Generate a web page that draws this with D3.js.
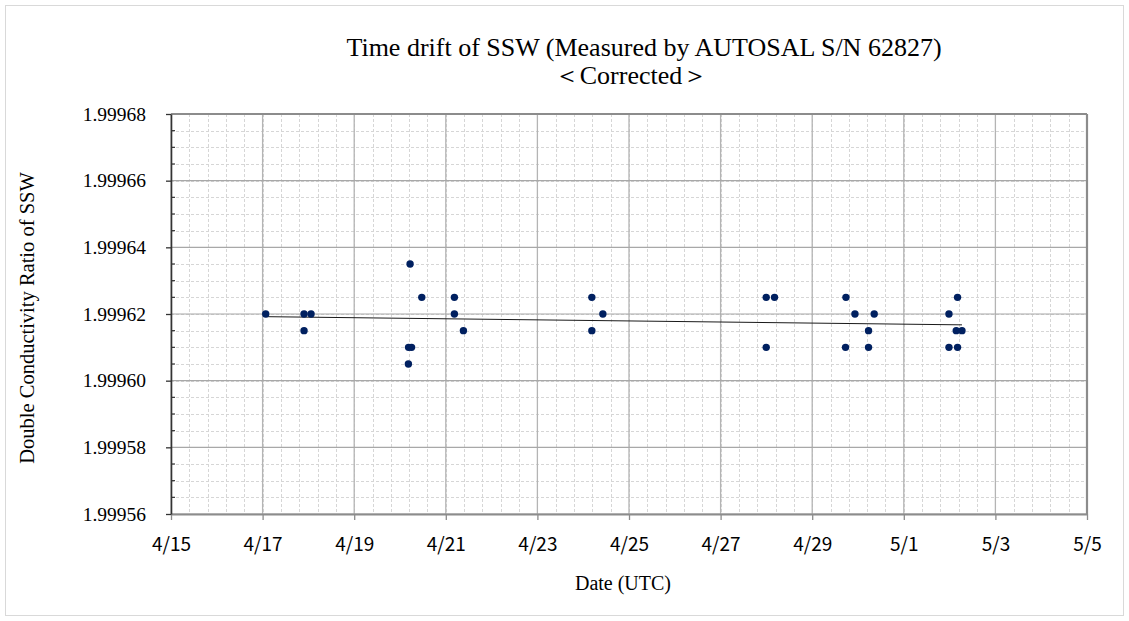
<!DOCTYPE html>
<html>
<head>
<meta charset="utf-8">
<script src="https://cdn.jsdelivr.net/npm/d3@7"></script>
<style>
  html, body { margin: 0; padding: 0; background: #fff; }
  svg { display: block; }
</style>
</head>
<body>
<svg id="chart" width="1129" height="621"></svg>
<script>
// Measurement times (UTC) and double conductivity ratios of SSW
const sampleTimes = [
  "2024-04-17 01:38", "2024-04-17 21:43", "2024-04-18 01:23", "2024-04-17 21:43",
  "2024-04-20 05:17", "2024-04-20 04:29", "2024-04-20 06:04", "2024-04-20 04:24",
  "2024-04-20 11:25", "2024-04-21 04:30", "2024-04-21 04:30", "2024-04-21 09:13",
  "2024-04-24 04:32", "2024-04-24 10:18", "2024-04-24 04:32",
  "2024-04-27 23:54", "2024-04-28 04:15", "2024-04-27 23:54",
  "2024-04-29 17:41", "2024-04-29 22:24", "2024-04-29 17:28",
  "2024-04-30 05:31", "2024-04-30 05:31", "2024-04-30 08:30",
  "2024-05-02 04:10", "2024-05-01 23:40", "2024-05-02 03:29", "2024-05-02 06:29",
  "2024-05-01 23:40", "2024-05-02 04:10"
];
const ratios = [
  1.999620, 1.999620, 1.999620, 1.999615,
  1.999635, 1.999610, 1.999610, 1.999605,
  1.999625, 1.999625, 1.999620, 1.999615,
  1.999625, 1.999620, 1.999615,
  1.999625, 1.999625, 1.999610,
  1.999625, 1.999620, 1.999610,
  1.999615, 1.999610, 1.999620,
  1.999625, 1.999620, 1.999615, 1.999615,
  1.999610, 1.999610
];

// Axis ticks
const xTickLabels = ["4/15", "4/17", "4/19", "4/21", "4/23", "4/25", "4/27", "4/29", "5/1", "5/3", "5/5"];
const tickYear = 2024;
const yTickValues = [1.99956, 1.99958, 1.99960, 1.99962, 1.99964, 1.99966, 1.99968];

const titleLine1 = "Time drift of SSW (Measured by AUTOSAL  S/N 62827)";
const titleLine2 = "＜Corrected＞";
const xTitle = "Date (UTC)";
const yTitle = "Double Conductivity Ratio of  SSW";

const parseTime = d3.utcParse("%Y-%m-%d %H:%M");
const parseTick = d3.utcParse("%Y/%m/%d");
const points = sampleTimes.map((t, i) => ({ t: parseTime(t), v: ratios[i] }));
const xTicks = xTickLabels.map(s => parseTick(tickYear + "/" + s));

const svg = d3.select("#chart");
const W = 1129, H = 621;
const plot = { left: 171, right: 1087, top: 114, bottom: 514 };

// outer chart frame
svg.append("rect")
  .attr("x", 5.5).attr("y", 5.5).attr("width", W - 11).attr("height", H - 11)
  .attr("fill", "#fff").attr("stroke", "#d9d9d9").attr("stroke-width", 1);

const x = d3.scaleUtc()
  .domain([xTicks[0], xTicks[xTicks.length - 1]])
  .range([plot.left, plot.right]);
const y = d3.scaleLinear()
  .domain([yTickValues[0], yTickValues[yTickValues.length - 1]])
  .range([plot.bottom, plot.top]);

const dayMs = 864e5;
const t0 = xTicks[0].getTime();
const spanDays = (xTicks[xTicks.length - 1].getTime() - t0) / dayMs;
const minorX = d3.range(0, spanDays + 1e-9, 0.4).map(d => new Date(t0 + d * dayMs));
const yStep = yTickValues[1] - yTickValues[0];
const minorY = d3.range(0, (yTickValues.length - 1) * 4 + 1).map(i => yTickValues[0] + i * yStep / 4);

const grid = svg.append("g");
// minor gridlines (dashed)
grid.selectAll(".mx").data(minorX).join("line")
  .attr("x1", d => Math.round(x(d)) + 0.5).attr("x2", d => Math.round(x(d)) + 0.5)
  .attr("y1", plot.top).attr("y2", plot.bottom)
  .attr("stroke", "#d6d6d6").attr("stroke-width", 1).attr("stroke-dasharray", "3,2");
grid.selectAll(".my").data(minorY).join("line")
  .attr("y1", d => Math.round(y(d)) + 0.5).attr("y2", d => Math.round(y(d)) + 0.5)
  .attr("x1", plot.left).attr("x2", plot.right)
  .attr("stroke", "#d6d6d6").attr("stroke-width", 1).attr("stroke-dasharray", "3,2");
// major gridlines
grid.selectAll(".Mx").data(xTicks).join("line")
  .attr("x1", d => x(d)).attr("x2", d => x(d))
  .attr("y1", plot.top).attr("y2", plot.bottom)
  .attr("stroke", "#b4b4b4").attr("stroke-width", 1.3);
grid.selectAll(".My").data(yTickValues).join("line")
  .attr("y1", d => y(d)).attr("y2", d => y(d))
  .attr("x1", plot.left).attr("x2", plot.right)
  .attr("stroke", "#a8a8a8").attr("stroke-width", 1.1);

// plot border (top / right)
svg.append("line").attr("x1", plot.left).attr("x2", plot.right)
  .attr("y1", plot.top).attr("y2", plot.top)
  .attr("stroke", "#8c8c8c").attr("stroke-width", 2);
svg.append("line").attr("x1", plot.right).attr("x2", plot.right)
  .attr("y1", plot.top).attr("y2", plot.bottom)
  .attr("stroke", "#8c8c8c").attr("stroke-width", 2.2);

// x axis
const xAxis = svg.append("g")
  .attr("transform", `translate(0,${plot.bottom})`)
  .call(d3.axisBottom(x).tickValues(xTicks).tickSize(6).tickSizeOuter(0)
    .tickFormat((d, i) => xTickLabels[i]));
xAxis.select(".domain").attr("stroke", "#8c8c8c").attr("stroke-width", 2);
xAxis.selectAll(".tick line").attr("stroke", "#8c8c8c").attr("stroke-width", 1.3);
xAxis.selectAll(".tick text")
  .attr("y", 24).attr("dy", "0.71em")
  .attr("font-family", "'Noto Sans CJK JP', 'Noto Sans', sans-serif")
  .attr("font-size", 19).attr("fill", "#000");

// y axis: major ticks outside, minor ticks inside
const yAxis = svg.append("g")
  .attr("transform", `translate(${plot.left},0)`)
  .call(d3.axisLeft(y).tickValues(yTickValues).tickSize(5).tickSizeOuter(0)
    .tickFormat(d3.format(".5f")));
yAxis.select(".domain").attr("stroke", "#333").attr("stroke-width", 1.6);
yAxis.selectAll(".tick line").attr("stroke", "#333").attr("stroke-width", 1.3);
yAxis.selectAll(".tick text")
  .attr("x", -25)
  .attr("font-family", "'Liberation Serif', 'Times New Roman', serif")
  .attr("font-size", 19.5).attr("fill", "#000");
svg.append("g").selectAll("line").data(minorY.filter((d, i) => i % 4 !== 0)).join("line")
  .attr("x1", plot.left).attr("x2", plot.left + 4)
  .attr("y1", d => y(d)).attr("y2", d => y(d))
  .attr("stroke", "#333").attr("stroke-width", 1.2);

// linear trend line (least squares) over the measurement span
const xs = points.map(p => p.t.getTime() / dayMs);
const ys = points.map(p => p.v);
const mx = d3.mean(xs), my = d3.mean(ys);
const slope = d3.sum(xs, (d, i) => (d - mx) * (ys[i] - my)) / d3.sum(xs, d => (d - mx) ** 2);
const intercept = my - slope * mx;
const [tMin, tMax] = d3.extent(xs);
const trend = [tMin, tMax].map(d => ({ t: new Date(d * dayMs), v: intercept + slope * d }));
svg.append("path")
  .datum(trend)
  .attr("d", d3.line().x(d => x(d.t)).y(d => y(d.v)))
  .attr("fill", "none").attr("stroke", "#1a1a1a").attr("stroke-width", 1);

// measurement points
svg.append("g").selectAll("circle").data(points).join("circle")
  .attr("cx", d => x(d.t)).attr("cy", d => y(d.v)).attr("r", 3.7)
  .attr("fill", "#002060");

// titles
const serif = "'Liberation Serif', 'Times New Roman', serif";
svg.append("text").attr("x", 644).attr("y", 56).attr("text-anchor", "middle")
  .attr("font-family", serif).attr("font-size", 26).attr("fill", "#000")
  .text(titleLine1);
svg.append("text").attr("x", 631).attr("y", 84).attr("text-anchor", "middle")
  .attr("font-family", serif).attr("font-size", 26).attr("fill", "#000")
  .text(titleLine2);
svg.append("text").attr("x", 623).attr("y", 590).attr("text-anchor", "middle")
  .attr("font-family", serif).attr("font-size", 20).attr("fill", "#000")
  .text(xTitle);
svg.append("text")
  .attr("transform", "translate(34,318) rotate(-90)")
  .attr("text-anchor", "middle")
  .attr("font-family", serif).attr("font-size", 20.5).attr("fill", "#000")
  .text(yTitle);
</script>
</body>
</html>
